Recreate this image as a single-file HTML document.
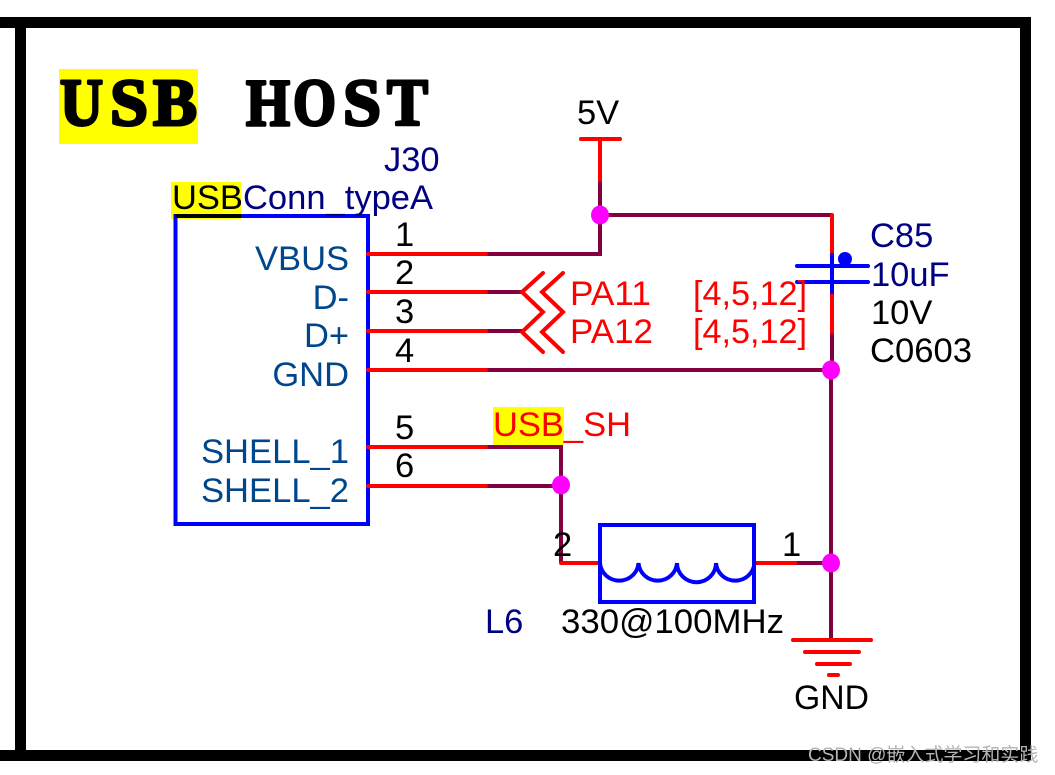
<!DOCTYPE html>
<html>
<head>
<meta charset="utf-8">
<style>
html,body{margin:0;padding:0;background:#fff;width:1055px;height:775px;overflow:hidden}
svg{display:block}
text{font-family:"Liberation Sans","Noto Sans CJK SC",sans-serif;font-size:34.5px}
.n{fill:#000080}.k{fill:#000}.b{fill:#00468c}.r{fill:#f00}
.w{stroke:#800040;stroke-width:4;fill:none}
.p{stroke:#f00;stroke-width:4;fill:none;stroke-linecap:round}
.u{stroke:#00f;fill:none}
.t{font-family:"Liberation Serif",serif;font-weight:bold;font-size:67px;fill:#000;stroke:#000;stroke-width:3px;stroke-linejoin:round}
</style>
</head>
<body>
<svg width="1055" height="775" viewBox="0 0 1055 775" xmlns="http://www.w3.org/2000/svg">
<rect width="1055" height="775" fill="#fff"/>
<!-- frame -->
<rect x="0" y="17" width="1031" height="11" fill="#000"/>
<rect x="15" y="17" width="11" height="744" fill="#000"/>
<rect x="1020" y="17" width="11" height="744" fill="#000"/>
<rect x="0" y="750" width="1031" height="11" fill="#000"/>
<!-- highlights -->
<rect x="59" y="69" width="139" height="75" fill="#ff0"/>
<rect x="171" y="182" width="70" height="37" fill="#ff0"/>
<rect x="493" y="407" width="71" height="38" fill="#ff0"/>
<!-- title -->
<text x="60" y="125" class="t" textLength="43" lengthAdjust="spacingAndGlyphs">U</text>
<text x="110" y="125" class="t" textLength="38" lengthAdjust="spacingAndGlyphs">S</text>
<text x="153" y="125" class="t" textLength="44" lengthAdjust="spacingAndGlyphs">B</text>
<text x="246" y="125" class="t" textLength="44" lengthAdjust="spacingAndGlyphs">H</text>
<text x="293" y="125" class="t" textLength="43" lengthAdjust="spacingAndGlyphs">O</text>
<text x="343" y="125" class="t" textLength="38" lengthAdjust="spacingAndGlyphs">S</text>
<text x="387" y="125" class="t" textLength="41" lengthAdjust="spacingAndGlyphs">T</text>
<!-- connector box -->
<rect x="175.500" y="216" width="192.500" height="308" class="u" stroke-width="4"/>
<rect x="175" y="214" width="66" height="4" fill="#000"/>
<!-- purple wires -->
<path class="w" d="M486 254H600V180M600 215H832"/>
<path class="w" d="M486 292H524M486 331H524M486 370H831"/>
<path class="w" d="M486 447H561V563M486 486H561"/>
<path class="w" d="M795 563H831M831 370V640M832 332V370"/>
<!-- red wires -->
<path class="p" d="M368 254H486M368 292H486M368 331H486M368 370H486M368 447H486M368 486H486"/>
<path class="p" d="M581 139H620M600 139V180"/>
<path class="p" d="M832 215V255M832 292V332"/>
<path class="p" d="M561 563H600M755 563H795"/>
<path class="p" d="M793 640H871M805 652H859M817 664H850M829 675H838"/>
<!-- chevrons -->
<path class="p" d="M543 273L522 292L543 312L522 332L543 352"/>
<path class="p" d="M563 273L542 292L563 312L542 332L563 352"/>
<!-- capacitor -->
<path class="u" stroke-width="4" d="M832 255V292M797 266H868M797 282H868" stroke-linecap="round"/>
<circle cx="845" cy="259" r="7" fill="#00f"/>
<!-- inductor -->
<rect x="600" y="525" width="154" height="77" class="u" stroke-width="4"/>
<path class="u" stroke-width="4" d="M600 563A19.300 19 0 0 0 638.500 563A19.300 19 0 0 0 677 563A19.300 19 0 0 0 716 563A19.300 19 0 0 0 754.500 563"/>
<!-- junctions -->
<ellipse cx="600" cy="215" rx="9" ry="9.500" fill="#f0f"/>
<ellipse cx="831" cy="370" rx="9" ry="9.500" fill="#f0f"/>
<ellipse cx="561" cy="485" rx="9" ry="9.500" fill="#f0f"/>
<ellipse cx="831" cy="563" rx="9" ry="9.500" fill="#f0f"/>
<!-- text -->
<text x="577" y="124" class="k">5V</text>
<text x="384" y="171" class="n">J30</text>
<text x="172" y="209" class="k">USB</text>
<text x="243" y="209" class="n" textLength="190" lengthAdjust="spacingAndGlyphs">Conn_typeA</text>
<text x="349" y="270" text-anchor="end" class="b">VBUS</text>
<text x="349" y="309" text-anchor="end" class="b">D-</text>
<text x="349" y="347" text-anchor="end" class="b">D+</text>
<text x="349" y="386" text-anchor="end" class="b">GND</text>
<text x="349" y="463" text-anchor="end" class="b" textLength="148" lengthAdjust="spacingAndGlyphs">SHELL_1</text>
<text x="349" y="502" text-anchor="end" class="b" textLength="148" lengthAdjust="spacingAndGlyphs">SHELL_2</text>
<text x="395" y="246" class="k">1</text>
<text x="395" y="284" class="k">2</text>
<text x="395" y="323" class="k">3</text>
<text x="395" y="362" class="k">4</text>
<text x="395" y="439" class="k">5</text>
<text x="395" y="477" class="k">6</text>
<text x="570" y="305" class="r" textLength="81" lengthAdjust="spacingAndGlyphs">PA11</text>
<text x="570" y="343" class="r" textLength="83" lengthAdjust="spacingAndGlyphs">PA12</text>
<text x="693" y="305" class="r" textLength="114" lengthAdjust="spacingAndGlyphs">[4,5,12]</text>
<text x="693" y="343" class="r" textLength="114" lengthAdjust="spacingAndGlyphs">[4,5,12]</text>
<text x="870" y="247" class="n">C85</text>
<text x="871" y="286" class="n">10uF</text>
<text x="871" y="324" class="k">10V</text>
<text x="870" y="362" class="k" textLength="102" lengthAdjust="spacingAndGlyphs">C0603</text>
<text x="493" y="436" class="r">USB_SH</text>
<text x="553" y="556" class="k">2</text>
<text x="782" y="556" class="k">1</text>
<text x="485" y="633" class="n">L6</text>
<text x="561" y="633" class="k" textLength="223" lengthAdjust="spacingAndGlyphs">330@100MHz</text>
<text x="794" y="709" class="k" textLength="75" lengthAdjust="spacingAndGlyphs">GND</text>
<text x="808" y="761" style="font-size:19px;fill:#b5b5b5">CSDN @嵌入式学习和实践</text>
</svg>
</body>
</html>
